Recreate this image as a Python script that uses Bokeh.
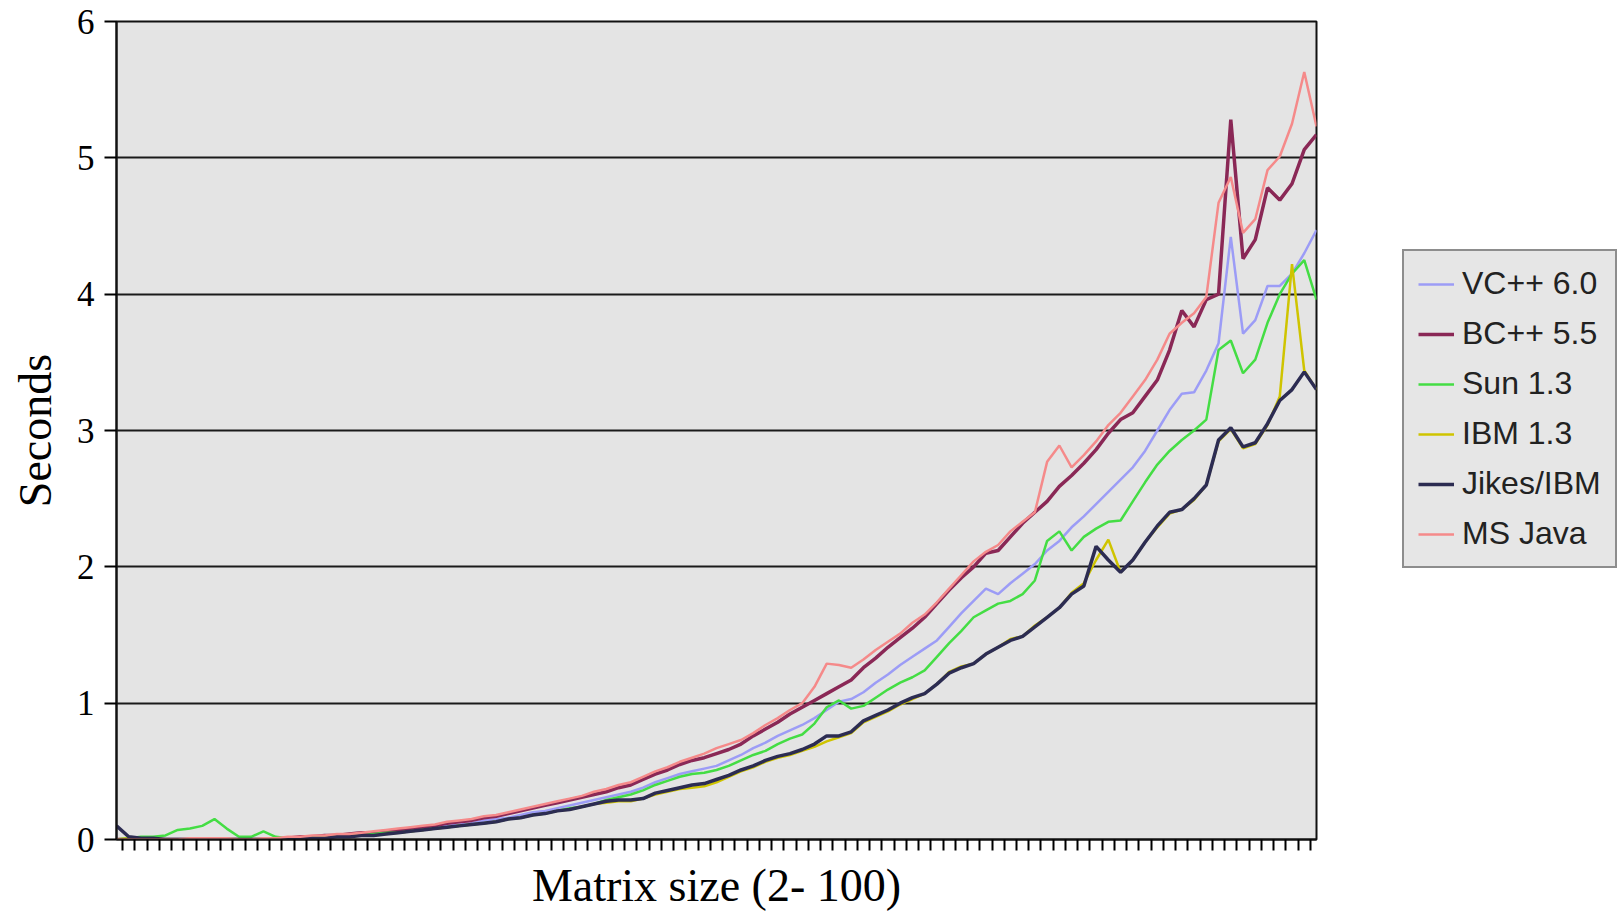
from bokeh.plotting import figure
from bokeh.models import Range1d, FixedTicker, Legend, LegendItem, CustomJSTickFormatter
from bokeh.embed import file_html
from bokeh.resources import INLINE

sizes = list(range(2, 101))

vc_cpp = [0.00]*14 + [
    0.01, 0.01, 0.02, 0.02, 0.03, 0.03, 0.04, 0.05, 0.05, 0.06,
    0.07, 0.08, 0.09, 0.10, 0.11, 0.12, 0.14, 0.15, 0.16, 0.18,
    0.20, 0.21, 0.23, 0.25, 0.27, 0.29, 0.31, 0.33, 0.35, 0.38,
    0.42, 0.45, 0.48, 0.50, 0.52, 0.54, 0.58, 0.62, 0.67, 0.71,
    0.76, 0.80, 0.84, 0.89, 0.95, 1.01, 1.03, 1.08, 1.15, 1.21,
    1.28, 1.34, 1.40, 1.46, 1.56, 1.66, 1.75, 1.84, 1.80, 1.88,
    1.95, 2.02, 2.12, 2.19, 2.29, 2.37, 2.46, 2.55, 2.64, 2.73,
    2.85, 3.00, 3.15, 3.27, 3.28, 3.44, 3.64, 4.42, 3.71, 3.81,
    4.06, 4.06, 4.15, 4.30, 4.47]

bc_cpp = [0.00]*14 + [
    0.01, 0.02, 0.02, 0.03, 0.03, 0.04, 0.05, 0.05, 0.06, 0.07,
    0.08, 0.09, 0.10, 0.12, 0.13, 0.14, 0.16, 0.17, 0.19, 0.21,
    0.23, 0.25, 0.27, 0.29, 0.31, 0.33, 0.35, 0.38, 0.40, 0.44,
    0.48, 0.51, 0.55, 0.58, 0.60, 0.63, 0.66, 0.70, 0.76, 0.81,
    0.86, 0.92, 0.97, 1.02, 1.07, 1.12, 1.17, 1.26, 1.33, 1.41,
    1.48, 1.55, 1.63, 1.73, 1.83, 1.92, 2.00, 2.10, 2.12, 2.22,
    2.32, 2.40, 2.48, 2.59, 2.67, 2.76, 2.86, 2.98, 3.08, 3.13,
    3.25, 3.37, 3.59, 3.88, 3.76, 3.96, 4.00, 5.28, 4.26, 4.40,
    4.78, 4.69, 4.81, 5.06, 5.17]

sun = [0.00, 0.01, 0.02, 0.02, 0.03, 0.07, 0.08, 0.10, 0.15, 0.08, 0.02, 0.02, 0.06, 0.02,
    0.01, 0.01, 0.02, 0.02, 0.02, 0.03, 0.03, 0.04, 0.05, 0.05,
    0.06, 0.07, 0.08, 0.09, 0.10, 0.11, 0.12, 0.13, 0.15, 0.16,
    0.18, 0.19, 0.21, 0.23, 0.24, 0.26, 0.29, 0.31, 0.33, 0.36,
    0.40, 0.43, 0.46, 0.48, 0.49, 0.51, 0.54, 0.58, 0.62, 0.65,
    0.70, 0.74, 0.77, 0.85, 0.97, 1.02, 0.96, 0.98, 1.04, 1.10,
    1.15, 1.19, 1.24, 1.34, 1.44, 1.53, 1.63, 1.68, 1.73, 1.75,
    1.80, 1.90, 2.19, 2.26, 2.12, 2.22, 2.28, 2.33, 2.34, 2.48,
    2.62, 2.75, 2.85, 2.93, 3.00, 3.08, 3.59, 3.66, 3.42, 3.52,
    3.79, 4.00, 4.15, 4.25, 3.96]

ibm = [0.00, 0.01, 0.01, 0.01, 0.00, 0.00, 0.00, 0.00, 0.00, 0.00, 0.00, 0.00, 0.00, 0.00,
    0.00, 0.00, 0.01, 0.01, 0.02, 0.02, 0.03, 0.03, 0.04, 0.05,
    0.06, 0.07, 0.08, 0.09, 0.10, 0.11, 0.12, 0.13, 0.15, 0.16,
    0.18, 0.19, 0.21, 0.22, 0.24, 0.26, 0.27, 0.28, 0.28, 0.30,
    0.33, 0.35, 0.37, 0.38, 0.39, 0.42, 0.46, 0.50, 0.53, 0.57,
    0.60, 0.62, 0.65, 0.68, 0.72, 0.75, 0.78, 0.86, 0.90, 0.94,
    0.99, 1.03, 1.07, 1.14, 1.23, 1.27, 1.29, 1.36, 1.41, 1.47,
    1.49, 1.57, 1.63, 1.70, 1.81, 1.88, 2.05, 2.20, 1.96, 2.05,
    2.18, 2.29, 2.39, 2.42, 2.49, 2.60, 2.92, 3.01, 2.87, 2.90,
    3.04, 3.25, 4.22, 3.44, 3.30]

jikes = [0.10, 0.02, 0.01, 0.01, 0.00, 0.00, 0.00, 0.00, 0.00, 0.00, 0.00, 0.00, 0.00, 0.00,
    0.00, 0.01, 0.01, 0.01, 0.02, 0.02, 0.03, 0.03, 0.04, 0.05,
    0.06, 0.07, 0.08, 0.09, 0.10, 0.11, 0.12, 0.13, 0.15, 0.16,
    0.18, 0.19, 0.21, 0.22, 0.24, 0.26, 0.28, 0.29, 0.29, 0.30,
    0.34, 0.36, 0.38, 0.40, 0.41, 0.44, 0.47, 0.51, 0.54, 0.58,
    0.61, 0.63, 0.66, 0.70, 0.76, 0.76, 0.79, 0.87, 0.91, 0.95,
    1.00, 1.04, 1.07, 1.14, 1.22, 1.26, 1.29, 1.36, 1.41, 1.46,
    1.49, 1.56, 1.63, 1.70, 1.80, 1.86, 2.15, 2.05, 1.96, 2.05,
    2.18, 2.30, 2.40, 2.42, 2.50, 2.60, 2.93, 3.02, 2.88, 2.91,
    3.05, 3.22, 3.30, 3.43, 3.30]

ms_java = [0.00, 0.00, 0.00, 0.00, 0.00, 0.00, 0.01, 0.01, 0.01, 0.01, 0.00, 0.00, 0.01, 0.01,
    0.02, 0.02, 0.03, 0.03, 0.04, 0.04, 0.05, 0.06, 0.07, 0.08,
    0.09, 0.10, 0.11, 0.13, 0.14, 0.15, 0.17, 0.18, 0.20, 0.22,
    0.24, 0.26, 0.28, 0.30, 0.32, 0.35, 0.37, 0.40, 0.42, 0.46,
    0.50, 0.53, 0.57, 0.60, 0.63, 0.67, 0.70, 0.73, 0.78, 0.84,
    0.89, 0.95, 1.00, 1.12, 1.29, 1.28, 1.26, 1.32, 1.39, 1.45,
    1.51, 1.59, 1.65, 1.74, 1.84, 1.94, 2.04, 2.11, 2.16, 2.26,
    2.33, 2.40, 2.77, 2.89, 2.73, 2.82, 2.92, 3.04, 3.13, 3.25,
    3.37, 3.52, 3.71, 3.79, 3.86, 3.98, 4.67, 4.86, 4.45, 4.55,
    4.91, 5.01, 5.25, 5.63, 5.23]

series_names = ["VC++ 6.0", "BC++ 5.5", "Sun 1.3", "IBM 1.3", "Jikes/IBM", "MS Java"]
series_values = [vc_cpp, bc_cpp, sun, ibm, jikes, ms_java]
series_colors = ["#9c9cf6", "#8a2856", "#44dd44", "#cfc400", "#2c2c52", "#f58a8a"]
series_widths = [2.5, 3.5, 2.5, 2.5, 3.5, 2.5]

y_ticks = [0, 1, 2, 3, 4, 5, 6]

p = figure(frame_width=1200, frame_height=818,
           min_border_left=116, min_border_top=21, min_border_right=297, min_border_bottom=62,
           x_range=Range1d(sizes[0], sizes[-1]), y_range=Range1d(0, 6),
           output_backend="svg", toolbar_location=None)

p.background_fill_color = "#e4e4e4"
p.border_fill_color = "white"
p.outline_line_color = "#111111"
p.outline_line_width = 2

p.xgrid.grid_line_color = None
p.ygrid.grid_line_color = "#1a1a1a"
p.ygrid.grid_line_width = 2
p.ygrid.ticker = FixedTicker(ticks=y_ticks)

p.yaxis.ticker = FixedTicker(ticks=y_ticks)
p.yaxis.axis_line_color = "#111111"
p.yaxis.axis_line_width = 2
p.yaxis.major_tick_out = 12
p.yaxis.major_tick_in = 0
p.yaxis.major_tick_line_width = 2
p.yaxis.minor_tick_line_color = None
p.yaxis.major_label_text_font = "Liberation Serif"
p.yaxis.major_label_text_font_size = "35px"
p.yaxis.major_label_text_color = "black"
p.yaxis.major_label_standoff = 10
p.yaxis.axis_label = "Seconds"
p.yaxis.axis_label_text_font = "Liberation Serif"
p.yaxis.axis_label_text_font_size = "46px"
p.yaxis.axis_label_text_font_style = "normal"
p.yaxis.axis_label_text_color = "black"
p.yaxis.axis_label_standoff = 13

p.xaxis.ticker = FixedTicker(ticks=[s + 0.5 for s in sizes[:-1]])
p.xaxis.formatter = CustomJSTickFormatter(code="return ''")
p.xaxis.axis_line_color = "#111111"
p.xaxis.axis_line_width = 2
p.xaxis.major_tick_out = 11
p.xaxis.major_tick_in = 0
p.xaxis.major_tick_line_width = 2
p.xaxis.minor_tick_line_color = None
p.xaxis.major_label_text_font_size = "1px"
p.xaxis.major_label_standoff = 0
p.xaxis.axis_label = "Matrix size (2- 100)"
p.xaxis.axis_label_text_font = "Liberation Serif"
p.xaxis.axis_label_text_font_size = "46px"
p.xaxis.axis_label_text_font_style = "normal"
p.xaxis.axis_label_text_color = "black"
p.xaxis.axis_label_standoff = 9

items = []
for name, vals, col, w in zip(series_names, series_values, series_colors, series_widths):
    r = p.line(sizes, vals, line_color=col, line_width=w)
    items.append(LegendItem(label=name, renderers=[r]))

legend = Legend(items=items, location=(86, 271))
legend.border_line_color = "#333333"
legend.border_line_width = 2
legend.background_fill_color = "#e6e6e6"
legend.background_fill_alpha = 1
legend.label_text_font = "Liberation Sans"
legend.label_text_font_size = "32px"
legend.label_text_color = "#222222"
legend.glyph_width = 36
legend.glyph_height = 36
legend.label_standoff = 8
legend.spacing = 13
legend.padding = 14
legend.margin = 0
p.add_layout(legend, "right")

open("out.html", "w").write(file_html(p, INLINE))
